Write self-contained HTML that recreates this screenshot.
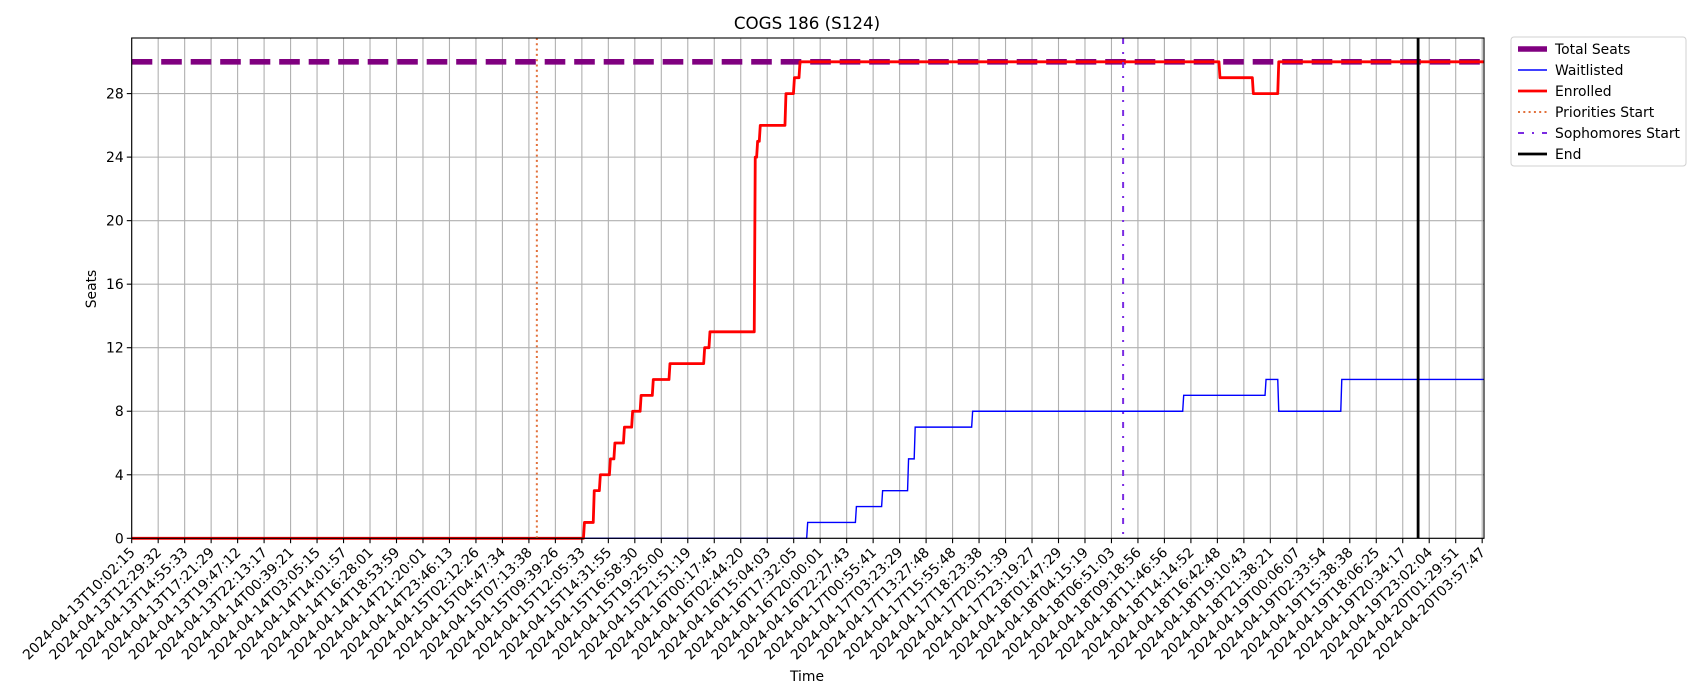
<!DOCTYPE html>
<html><head><meta charset="utf-8"><style>
html,body{margin:0;padding:0;background:#fff;}
svg{display:block;font-family:"DejaVu Sans","Liberation Sans",sans-serif;}
</style></head><body>
<svg id="chart" width="1700" height="700" viewBox="0 0 1700 700" xmlns="http://www.w3.org/2000/svg">
<text x="807" y="29" font-size="16.7" text-anchor="middle">COGS 186 (S124)</text>
<text x="0" y="0" font-size="13.9" text-anchor="middle" transform="translate(96,289) rotate(-90)">Seats</text>
<text x="807" y="681" font-size="13.9" text-anchor="middle">Time</text>
<g id="grid"></g>
<g id="series"></g>
<g id="axes"></g>
<g id="legend" transform="translate(1511,37)">
  <rect x="0" y="0" width="175" height="129" rx="3" fill="#fff" stroke="#d0d0d0"/>
  <g><line x1="7" y1="12" x2="36" y2="12" stroke="#800080" stroke-width="5.6"/><text x="44" y="17" font-size="13.9">Total Seats</text></g>
  <g><line x1="7" y1="33" x2="36" y2="33" stroke="#0000ff" stroke-width="1.4"/><text x="44" y="38" font-size="13.9">Waitlisted</text></g>
  <g><line x1="7" y1="54" x2="36" y2="54" stroke="#ff0000" stroke-width="2.8"/><text x="44" y="59" font-size="13.9">Enrolled</text></g>
  <g><line x1="7" y1="75" x2="36" y2="75" stroke="#e2703a" stroke-width="2" stroke-dasharray="2,3.3"/><text x="44" y="80" font-size="13.9">Priorities Start</text></g>
  <g><line x1="7" y1="96" x2="36" y2="96" stroke="#7b2be2" stroke-width="2" stroke-dasharray="6,8,2,8"/><text x="44" y="101" font-size="13.9">Sophomores Start</text></g>
  <g><line x1="7" y1="117" x2="36" y2="117" stroke="#000" stroke-width="2.8"/><text x="44" y="122" font-size="13.9">End</text></g>
</g>
</svg>
<script>
const tickLabels = ["2024-04-13T10:02:15","2024-04-13T12:29:32","2024-04-13T14:55:33","2024-04-13T17:21:29","2024-04-13T19:47:12","2024-04-13T22:13:17","2024-04-14T00:39:21","2024-04-14T03:05:15","2024-04-14T14:01:57","2024-04-14T16:28:01","2024-04-14T18:53:59","2024-04-14T21:20:01","2024-04-14T23:46:13","2024-04-15T02:12:26","2024-04-15T04:47:34","2024-04-15T07:13:38","2024-04-15T09:39:26","2024-04-15T12:05:33","2024-04-15T14:31:55","2024-04-15T16:58:30","2024-04-15T19:25:00","2024-04-15T21:51:19","2024-04-16T00:17:45","2024-04-16T02:44:20","2024-04-16T15:04:03","2024-04-16T17:32:05","2024-04-16T20:00:01","2024-04-16T22:27:43","2024-04-17T00:55:41","2024-04-17T03:23:29","2024-04-17T13:27:48","2024-04-17T15:55:48","2024-04-17T18:23:38","2024-04-17T20:51:39","2024-04-17T23:19:27","2024-04-18T01:47:29","2024-04-18T04:15:19","2024-04-18T06:51:03","2024-04-18T09:18:56","2024-04-18T11:46:56","2024-04-18T14:14:52","2024-04-18T16:42:48","2024-04-18T19:10:43","2024-04-18T21:38:21","2024-04-19T00:06:07","2024-04-19T02:33:54","2024-04-19T15:38:38","2024-04-19T18:06:25","2024-04-19T20:34:17","2024-04-19T23:02:04","2024-04-20T01:29:51","2024-04-20T03:57:47"];
const yTicks = [0,4,8,12,16,20,24,28];
const totalSeats = 30;
// step change points (x in tick-index units, value after change)
const enrolledX = [0,17.06,17.43,17.66,18.04,18.21,18.57,18.88,19.2,19.66,20.29,21.6,21.8,23.51,23.6,23.7,24.67,24.99,25.2,41.06,42.32,43.28];
const enrolledY = [0,1,3,4,5,6,7,8,9,10,11,12,13,24,25,26,28,29,30,29,28,30];
const waitX = [0,25.49,27.33,28.32,29.3,29.55,31.72,39.69,42.8,43.28,45.66];
const waitY = [0,1,2,3,5,7,8,9,10,8,10];
const prioritiesStart = 15.3;
const sophomoresStart = 37.44;
const endMark = 48.58;
const xMax = 51.07, yMax = 31.5;

const L=131.7, R=1484, T=38, B=538.3;
const xs = v => L + v*26.48;
const ys = v => B - v/yMax*(B-T);
const NS="http://www.w3.org/2000/svg";
function mk(tag, attrs, parent){const e=document.createElementNS(NS,tag);for(const k in attrs)e.setAttribute(k,attrs[k]);parent.appendChild(e);return e;}
const grid=document.getElementById('grid'), ser=document.getElementById('series'), ax=document.getElementById('axes');

tickLabels.forEach((lab,i)=>{
  const x=xs(i);
  const g=mk('line',{x1:x,y1:T,x2:x,y2:B,stroke:'#b0b0b0','stroke-width':1.1},grid);
  
  
  const t=mk('line',{x1:x,y1:B,x2:x,y2:B+4.9,stroke:'#000','stroke-width':1.1},ax);
  
  
  const tx=mk('text',{x:0,y:0,'font-size':13.9,'text-anchor':'end',transform:`translate(${x+4},${B+15}) rotate(-45)`},ax);
  tx.textContent=lab;
  
  
});
yTicks.forEach(v=>{
  const y=ys(v);
  const g=mk('line',{x1:L,y1:y,x2:R,y2:y,stroke:'#b0b0b0','stroke-width':1.1},grid);
  
  
  const t=mk('line',{x1:L-4.9,y1:y,x2:L,y2:y,stroke:'#000','stroke-width':1.1},ax);
  
  
  const tx=mk('text',{x:L-8,y:y+5,'font-size':13.9,'text-anchor':'end'},ax);
  tx.textContent=v;
  
  
});
function stepPath(X,Y){let d='';for(let i=0;i<X.length;i++){const x=xs(X[i]);if(i===0)d+=`M${x},${ys(Y[0])}`;else d+=`L${x},${ys(Y[i-1])}L${x+1},${ys(Y[i])}`;}d+=`L${xs(xMax)},${ys(Y[Y.length-1])}`;return d;}

const ts=mk('line',{x1:xs(0),y1:ys(totalSeats),x2:xs(xMax),y2:ys(totalSeats),stroke:'#800080','stroke-width':5.6,'stroke-dasharray':'20.6,8.9'},ser);


const wl=mk('path',{d:stepPath(waitX,waitY),fill:'none',stroke:'#0000ff','stroke-width':1.4},ser);


const en=mk('path',{d:stepPath(enrolledX,enrolledY),fill:'none',stroke:'#ff0000','stroke-width':2.8,'stroke-linejoin':'round'},ser);


const pl=mk('line',{x1:xs(prioritiesStart),y1:T,x2:xs(prioritiesStart),y2:B,stroke:'#e2703a','stroke-width':2,'stroke-dasharray':'2,3.3'},ser);


const sl=mk('line',{x1:xs(sophomoresStart),y1:T,x2:xs(sophomoresStart),y2:B,stroke:'#7b2be2','stroke-width':2,'stroke-dasharray':'6,8,2,8'},ser);


const el=mk('line',{x1:xs(endMark),y1:T,x2:xs(endMark),y2:B,stroke:'#000','stroke-width':2.8},ser);


const fr=mk('rect',{x:L,y:T,width:R-L,height:B-T,fill:'none',stroke:'#000','stroke-width':1.1},ax);


</script>
</body></html>
